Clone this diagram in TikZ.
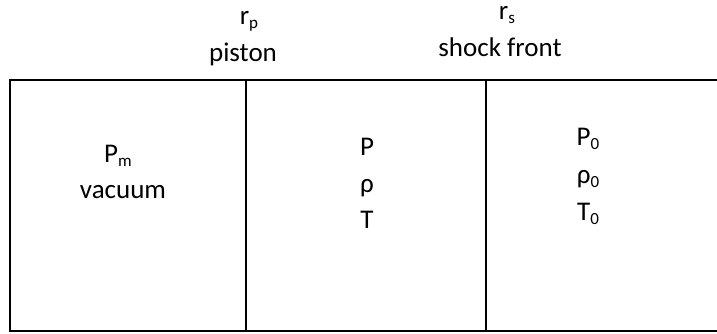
\documentclass[tikz,border=0pt]{standalone}
\usepackage{fontspec}
\setmainfont{Carlito}
\newcommand{\sbs}[1]{\raisebox{-4pt}{\fontsize{17}{17}\selectfont #1}}
\begin{document}
\begin{tikzpicture}[x=1pt,y=-1pt,
  lbl/.style={font=\fontsize{27}{27}\selectfont, inner sep=0pt, anchor=base},
  frame/.style={line width=1.7pt}]
\useasboundingbox (0,0) rectangle (717,334);
\fill[white] (0,0) rectangle (717,334);
% frame
\coordinate (tl) at (10,80);
\coordinate (bl) at (10,331);
\coordinate (tr) at (717,80);
\coordinate (br) at (717,331);
\coordinate (p1t) at (246,80);
\coordinate (p1b) at (246,331);
\coordinate (s1t) at (486,80);
\coordinate (s1b) at (486,331);
\draw[frame] (tr) -- (tl) -- (bl) -- (br);
\draw[frame] (p1t) -- (p1b);
\draw[frame] (s1t) -- (s1b);
% top labels
\node[lbl] (rp) at (249,25) {r\sbs{p}};
\node[lbl] (piston) at (243,62) {piston};
\node[lbl] (rs) at (507,20) {r\sbs{s}};
\node[lbl] (shock) at (500,57) {shock front};
% left region
\node[lbl] (pm) at (118,162) {P\sbs{m}};
\node[lbl] (vac) at (123,198) {vacuum};
% middle region
\node[lbl] (pp) at (367,155) {P};
\node[lbl] (rho) at (367,192) {ρ};
\node[lbl] (tt) at (367,228) {T};
% right region
\node[lbl] (p0) at (588,146) {P\sbs{0}};
\node[lbl] (rho0) at (588,183) {ρ\sbs{0}};
\node[lbl] (t0) at (588,220) {T\sbs{0}};
\end{tikzpicture}
\end{document}
